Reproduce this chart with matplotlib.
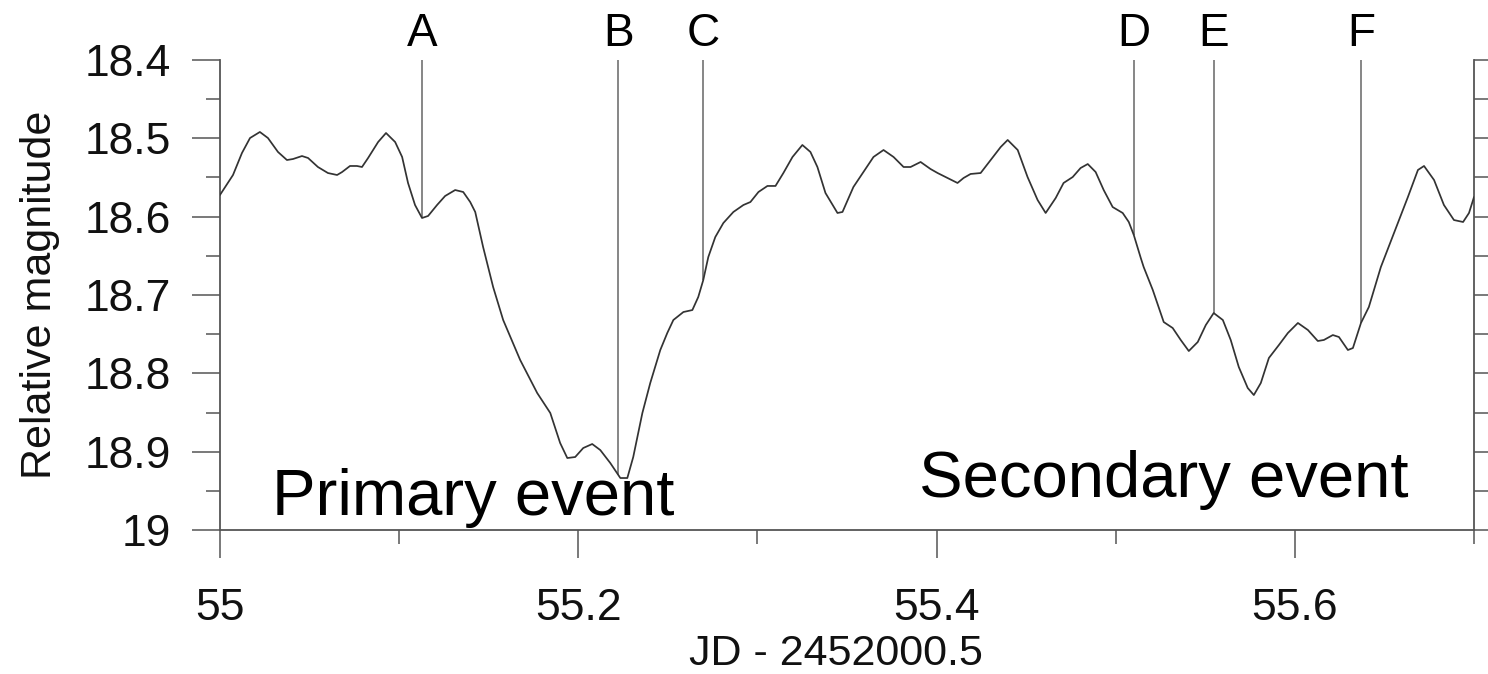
import numpy as np
import matplotlib
matplotlib.use("Agg")
import matplotlib.pyplot as plt
from matplotlib.ticker import MultipleLocator, FuncFormatter
import matplotlib.transforms as mtransforms

plt.rcParams['font.family'] = ['Liberation Sans', 'DejaVu Sans']

# light curve
jd = [55.0000, 55.0073, 55.0123, 55.0168, 55.0223, 55.0268, 55.0324, 55.0374, 55.0408, 55.0458,
      55.0492, 55.0547, 55.0603, 55.0654, 55.0682, 55.0726, 55.0765, 55.0793, 55.0827, 55.0883,
      55.0927, 55.0978, 55.1017, 55.1050, 55.1089, 55.1128, 55.1162, 55.1212, 55.1257, 55.1313,
      55.1358, 55.1397, 55.1425, 55.1469, 55.1525, 55.1581, 55.1676, 55.1771, 55.1844, 55.1899,
      55.1939, 55.1983, 55.2028, 55.2078, 55.2123, 55.2179, 55.2235, 55.2274, 55.2307, 55.2358,
      55.2402, 55.2458, 55.2497, 55.2531, 55.2587, 55.2637, 55.2670, 55.2698, 55.2726, 55.2765,
      55.2810, 55.2866, 55.2922, 55.2961, 55.3006, 55.3056, 55.3101, 55.3145, 55.3196, 55.3251,
      55.3296, 55.3335, 55.3380, 55.3447, 55.3475, 55.3536, 55.3592, 55.3648, 55.3704, 55.3760,
      55.3816, 55.3855, 55.3911, 55.3966, 55.4006, 55.4061, 55.4117, 55.4151, 55.4190, 55.4246,
      55.4302, 55.4358, 55.4397, 55.4453, 55.4508, 55.4564, 55.4609, 55.4665, 55.4709, 55.4760,
      55.4804, 55.4844, 55.4888, 55.4933, 55.4983, 55.5039, 55.5073, 55.5101, 55.5140, 55.5156,
      55.5207, 55.5268, 55.5318, 55.5363, 55.5408, 55.5458, 55.5503, 55.5547, 55.5598, 55.5642,
      55.5687, 55.5737, 55.5771, 55.5810, 55.5855, 55.5911, 55.5961, 55.6017, 55.6073, 55.6128,
      55.6162, 55.6212, 55.6246, 55.6296, 55.6324, 55.6369, 55.6413, 55.6480, 55.6553, 55.6631,
      55.6687, 55.6721, 55.6777, 55.6832, 55.6888, 55.6939, 55.6972, 55.7000]
mag = [18.5724, 18.5468, 18.5187, 18.4996, 18.4919, 18.4996, 18.5174, 18.5277, 18.5264, 18.5226,
       18.5251, 18.5366, 18.5443, 18.5468, 18.5430, 18.5353, 18.5353, 18.5366, 18.5251, 18.5047,
       18.4932, 18.5047, 18.5238, 18.5570, 18.5851, 18.6017, 18.5991, 18.5851, 18.5736, 18.5660,
       18.5685, 18.5813, 18.5940, 18.6387, 18.6898, 18.7319, 18.7830, 18.8251, 18.8506, 18.8889,
       18.9081, 18.9068, 18.8953, 18.8902, 18.8979, 18.9145, 18.9336, 18.9336, 18.9068, 18.8506,
       18.8123, 18.7702, 18.7485, 18.7319, 18.7217, 18.7192, 18.7025, 18.6808, 18.6515, 18.6260,
       18.6081, 18.5940, 18.5851, 18.5813, 18.5685, 18.5608, 18.5608, 18.5443, 18.5238, 18.5085,
       18.5174, 18.5366, 18.5698, 18.5953, 18.5940, 18.5621, 18.5430, 18.5238, 18.5149, 18.5238,
       18.5366, 18.5366, 18.5302, 18.5391, 18.5443, 18.5506, 18.5570, 18.5506, 18.5455, 18.5443,
       18.5277, 18.5111, 18.5021, 18.5149, 18.5494, 18.5787, 18.5953, 18.5762, 18.5570, 18.5494,
       18.5379, 18.5328, 18.5430, 18.5660, 18.5877, 18.5953, 18.6068, 18.6234, 18.6528, 18.6642,
       18.6936, 18.7345, 18.7421, 18.7574, 18.7715, 18.7600, 18.7383, 18.7230, 18.7319, 18.7574,
       18.7919, 18.8187, 18.8277, 18.8123, 18.7804, 18.7638, 18.7485, 18.7357, 18.7447, 18.7587,
       18.7574, 18.7511, 18.7536, 18.7702, 18.7677, 18.7357, 18.7153, 18.6643, 18.6209, 18.5749,
       18.5404, 18.5353, 18.5532, 18.5851, 18.6043, 18.6068, 18.5953, 18.5749]

# event markers
marker_labels = ['A', 'B', 'C', 'D', 'E', 'F']
marker_jd = [55.1128, 55.2224, 55.2698, 55.5101, 55.5547, 55.6369]

# annotations
event_texts = ['Primary event', 'Secondary event']
event_pos = [(55.029, 18.981), (55.390, 18.958)]

fig = plt.figure(figsize=(14.88, 6.74), dpi=100)
ax = fig.add_axes([0.1478, 0.2136, 0.8428, 0.6974])

ax.plot(jd, mag, color='#333333', linewidth=1.25, zorder=3,
        solid_joinstyle='round', solid_capstyle='round')

# vertical marker lines from top of plot down to the curve
ends = np.interp(marker_jd, jd, mag)
ax.vlines(marker_jd, 18.4, ends, color='#666666', linewidth=1.1, zorder=2)

trans = mtransforms.blended_transform_factory(ax.transData, ax.transAxes)
for lab, x in zip(marker_labels, marker_jd):
    ax.text(x, 1.055, lab, transform=trans, ha='center', va='center',
            fontsize=33, color='black', clip_on=False)

for txt, (x, y) in zip(event_texts, event_pos):
    ax.text(x, y, txt, ha='left', va='baseline', fontsize=47, color='black')

ax.set_xlim(55, 55.7)
ax.set_ylim(19, 18.4)

ax.xaxis.set_major_locator(MultipleLocator(0.2))
ax.xaxis.set_minor_locator(MultipleLocator(0.1))
ax.yaxis.set_major_locator(MultipleLocator(0.1))
ax.yaxis.set_minor_locator(MultipleLocator(0.05))
ax.xaxis.set_major_formatter(FuncFormatter(lambda v, p: f'{v:g}'))
ax.yaxis.set_major_formatter(FuncFormatter(lambda v, p: f'{round(v, 2):g}'))

ax.spines['top'].set_visible(False)
for s in ['left', 'right', 'bottom']:
    ax.spines[s].set_color('#555555')
    ax.spines[s].set_linewidth(1.3)

ax.tick_params(axis='both', which='major', direction='out', length=20, width=1.1,
               color='#555555', labelsize=32, labelcolor='#111111')
ax.tick_params(axis='both', which='minor', direction='out', length=10, width=1.1,
               color='#555555')
ax.tick_params(axis='y', which='both', right=True, labelright=False, left=True)
ax.tick_params(axis='y', which='major', pad=15)
ax.tick_params(axis='x', which='major', pad=22)
ax.tick_params(axis='x', which='both', top=False)

ax.set_xlabel('JD - 2452000.5', fontsize=31, color='#111111')
ax.xaxis.set_label_coords(0.491, -0.222)
ax.set_ylabel('Relative magnitude', fontsize=31, color='#111111', labelpad=18)

fig.savefig('out.png', dpi=100)
